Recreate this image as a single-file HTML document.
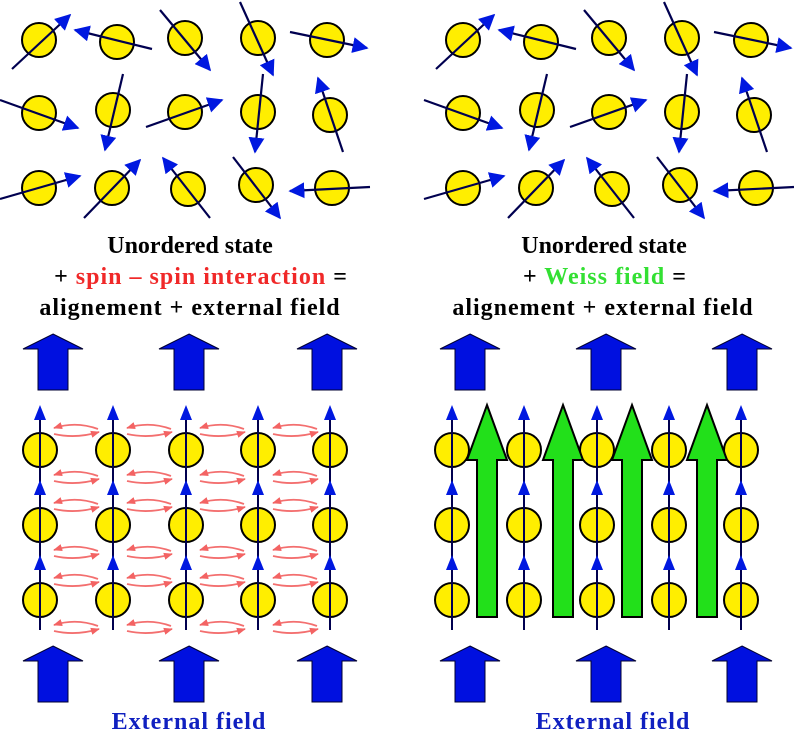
<!DOCTYPE html>
<html><head><meta charset="utf-8"><style>
html,body{margin:0;padding:0;background:#fff;}
svg{display:block;}
.t{font-family:"Liberation Serif",serif;font-weight:bold;font-size:24px;text-anchor:middle;fill:#000;}
</style></head><body>
<svg width="794" height="738" viewBox="0 0 794 738" xmlns="http://www.w3.org/2000/svg">
<defs>
<marker id="bh" viewBox="0 0 10 10" refX="9" refY="5" markerWidth="16" markerHeight="16" orient="auto" markerUnits="userSpaceOnUse"><path d="M0,0 L10,5 L0,10 Z" fill="#0018e0"/></marker>
<marker id="rh" viewBox="0 0 10 10" refX="9" refY="5" markerWidth="9" markerHeight="9" orient="auto" markerUnits="userSpaceOnUse"><path d="M0,1 L10,5 L0,9 Z" fill="#f03030"/></marker>
<circle id="c" r="17" fill="#ffee00" stroke="#000" stroke-width="2"/>
<path id="big" d="M0,0 L30,15 L15,15 L15,56 L-15,56 L-15,15 L-30,15 Z" fill="#0010e0" stroke="#000030" stroke-width="1"/>
<path id="gr" d="M0,0 L20,55 L10,55 L10,212 L-10,212 L-10,55 L-20,55 Z" fill="#22e01a" stroke="#000" stroke-width="2"/>
<g id="red" fill="none" stroke="#f04040" stroke-width="1.8" opacity="0.75">
<path d="M46,6 Q24,-2 2,5" marker-end="url(#rh)"/>
<path d="M2,11 Q24,16 47,9" marker-end="url(#rh)"/>
</g>
<g id="top">
<use href="#c" x="39" y="40"/><use href="#c" x="117" y="42"/><use href="#c" x="185" y="38"/><use href="#c" x="258" y="38"/><use href="#c" x="327" y="40"/>
<use href="#c" x="39" y="113"/><use href="#c" x="113" y="110"/><use href="#c" x="185" y="112"/><use href="#c" x="258" y="112"/><use href="#c" x="330" y="115"/>
<use href="#c" x="39" y="188"/><use href="#c" x="112" y="188"/><use href="#c" x="188" y="189"/><use href="#c" x="256" y="185"/><use href="#c" x="332" y="188"/>
<g stroke="#000050" stroke-width="2.2" marker-end="url(#bh)">
<line x1="12" y1="69" x2="70" y2="15"/><line x1="152" y1="49" x2="75" y2="30"/><line x1="160" y1="10" x2="210" y2="70"/><line x1="240" y1="2" x2="273" y2="75"/><line x1="290" y1="32" x2="367" y2="48"/>
<line x1="0" y1="100" x2="78" y2="128"/><line x1="123" y1="74" x2="105" y2="150"/><line x1="146" y1="127" x2="222" y2="100"/><line x1="263" y1="74" x2="255" y2="152"/><line x1="343" y1="152" x2="318" y2="78"/>
<line x1="0" y1="199" x2="80" y2="176"/><line x1="84" y1="218" x2="140" y2="160"/><line x1="210" y1="218" x2="163" y2="158"/><line x1="233" y1="157" x2="280" y2="218"/><line x1="370" y1="187" x2="290" y2="191"/>
</g>
</g>
</defs>

<use href="#top"/>
<use href="#top" x="424"/>

<text class="t" x="190" y="253">Unordered state</text>
<text class="t" x="201" y="284" letter-spacing="1">+ <tspan fill="#f02828">spin – spin interaction</tspan> =</text>
<text class="t" x="190" y="315" letter-spacing="1">alignement + external field</text>
<text class="t" x="604" y="253">Unordered state</text>
<text class="t" x="605" y="284" letter-spacing="1">+ <tspan fill="#33e033">Weiss field</tspan> =</text>
<text class="t" x="603" y="315" letter-spacing="1">alignement + external field</text>

<use href="#big" x="53" y="334"/><use href="#big" x="189" y="334"/><use href="#big" x="327" y="334"/>
<use href="#big" x="470" y="334"/><use href="#big" x="606" y="334"/><use href="#big" x="742" y="334"/>
<use href="#big" x="53" y="646"/><use href="#big" x="189" y="646"/><use href="#big" x="327" y="646"/>
<use href="#big" x="470" y="646"/><use href="#big" x="606" y="646"/><use href="#big" x="742" y="646"/>

<g>
<g id="redrow">
<use href="#red" x="52" y="423"/><use href="#red" x="125" y="423"/><use href="#red" x="198" y="423"/><use href="#red" x="271" y="423"/>
<use href="#red" x="52" y="470"/><use href="#red" x="125" y="470"/><use href="#red" x="198" y="470"/><use href="#red" x="271" y="470"/>
</g>
<use href="#redrow" y="75"/><use href="#redrow" y="150"/>
</g>
<g id="col">
<use href="#c" x="40" y="450"/><use href="#c" x="40" y="525"/><use href="#c" x="40" y="600"/>
<line x1="40" y1="630" x2="40" y2="408" stroke="#000050" stroke-width="2"/>
<path d="M40,405 l-6,15 h12 Z M40,480 l-6,15 h12 Z M40,555 l-6,15 h12 Z" fill="#0018e0"/>
</g>
<use href="#col" x="73"/><use href="#col" x="146"/><use href="#col" x="218"/><use href="#col" x="290"/>

<use href="#col" x="412"/><use href="#col" x="484"/><use href="#col" x="557"/><use href="#col" x="629"/><use href="#col" x="701"/>
<use href="#gr" x="487" y="405"/><use href="#gr" x="563" y="405"/><use href="#gr" x="632" y="405"/><use href="#gr" x="707" y="405"/>

<text class="t" x="189" y="729" letter-spacing="1" style="fill:#1020c0">External field</text>
<text class="t" x="613" y="729" letter-spacing="1" style="fill:#1020c0">External field</text>
</svg>
</body></html>
